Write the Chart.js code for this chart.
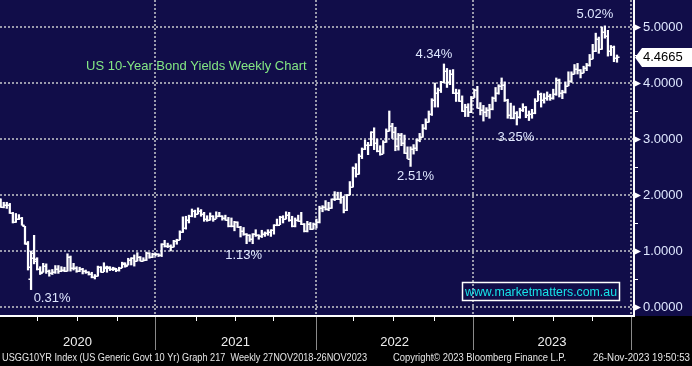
<!DOCTYPE html>
<html>
<head>
<meta charset="utf-8">
<script src="https://cdn.jsdelivr.net/npm/chart.js@4.4.0/dist/chart.umd.min.js"></script>
<style>
  html, body { margin: 0; padding: 0; background: #000; }
</style>
</head>
<body>
<canvas id="yieldChart" width="692" height="366"></canvas>
<script>
// weekly OHLC of US 10yr yield, first bar = week of 3 Jan 2020, last = 24 Nov 2023
var openV = [
  1.92,1.79,1.82,1.83,1.68,1.52,1.58,1.59,1.44,1.12,0.50,0.88,0.82,
  0.67,0.62,0.73,0.64,0.60,0.62,0.68,0.64,0.66,0.65,0.90,0.70,0.70,
  0.64,0.67,0.64,0.62,0.59,0.53,0.56,0.71,0.63,0.70,0.70,0.67,0.68,
  0.66,0.70,0.77,0.75,0.84,0.87,0.82,0.89,0.83,0.84,0.97,0.90,0.95,0.94,
  0.92,1.12,1.09,1.09,1.07,1.17,1.20,1.34,1.41,1.56,1.63,1.72,1.66,
  1.72,1.66,1.58,1.56,1.63,1.58,1.63,1.62,1.59,1.55,1.45,1.44,1.52,
  1.43,1.36,1.30,1.28,1.22,1.30,1.28,1.26,1.31,1.32,1.34,1.37,1.46,
  1.47,1.61,1.57,1.64,1.55,1.45,1.56,1.54,1.48,1.35,1.48,1.40,1.49,
  1.51,1.77,1.78,1.75,1.77,1.92,1.93,1.92,1.97,1.73,2.00,2.14,2.48,
  2.38,2.70,2.83,2.90,2.89,3.12,2.93,2.78,2.74,2.94,3.15,3.23,3.13,
  2.88,3.08,2.93,2.75,2.65,2.83,2.84,2.98,3.03,3.19,3.31,3.45,3.69,
  3.83,3.88,4.02,4.21,4.01,4.16,3.82,3.83,3.68,3.50,3.58,3.48,3.74,
  3.87,3.56,3.51,3.48,3.51,3.53,3.74,3.82,3.95,3.96,3.70,3.43,3.38,
  3.47,3.39,3.52,3.57,3.42,3.44,3.46,3.68,3.80,3.69,3.74,3.76,3.74,
  3.81,4.06,3.82,3.84,3.95,4.03,4.16,4.25,4.24,4.18,4.26,4.33,4.43,
  4.57,4.78,4.61,4.91,4.84,4.57,4.65,4.44
];
var highV = [
  1.93,1.87,1.87,1.85,1.69,1.67,1.65,1.60,1.44,1.17,1.00,1.28,0.88,
  0.72,0.78,0.77,0.66,0.67,0.74,0.74,0.72,0.71,0.95,0.91,0.78,0.72,
  0.71,0.69,0.66,0.63,0.62,0.58,0.73,0.72,0.79,0.73,0.72,0.71,0.69,
  0.71,0.80,0.79,0.87,0.88,0.93,0.97,0.90,0.88,0.98,0.97,0.96,0.96,0.95,
  1.13,1.19,1.14,1.11,1.19,1.21,1.36,1.61,1.62,1.64,1.75,1.73,1.77,
  1.74,1.69,1.63,1.68,1.63,1.70,1.69,1.63,1.64,1.60,1.59,1.53,1.52,
  1.44,1.42,1.31,1.29,1.31,1.38,1.29,1.37,1.34,1.38,1.38,1.47,1.57,
  1.62,1.63,1.70,1.69,1.62,1.59,1.64,1.69,1.49,1.53,1.51,1.50,1.57,
  1.80,1.81,1.90,1.87,1.93,2.06,2.05,2.05,1.98,2.01,2.24,2.50,2.56,
  2.73,2.84,2.98,2.94,3.13,3.20,3.00,2.88,2.97,3.18,3.50,3.28,3.21,
  3.10,3.10,3.07,2.86,2.86,2.90,3.00,3.10,3.26,3.36,3.50,3.72,4.00,
  3.91,4.03,4.34,4.26,4.23,4.24,3.89,3.88,3.77,3.62,3.63,3.76,3.89,
  3.94,3.65,3.60,3.56,3.62,3.75,3.92,3.97,4.09,4.02,3.71,3.64,3.59,
  3.49,3.55,3.63,3.58,3.50,3.53,3.72,3.86,3.82,3.81,3.84,3.80,3.89,
  4.09,4.07,3.87,4.02,4.20,4.20,4.33,4.35,4.24,4.30,4.35,4.51,4.69,
  4.89,4.82,5.00,5.02,4.94,4.67,4.66,4.50
];
var lowV = [
  1.78,1.77,1.76,1.67,1.50,1.51,1.56,1.46,1.12,0.66,0.31,0.77,0.66,
  0.58,0.62,0.60,0.55,0.58,0.60,0.60,0.63,0.63,0.64,0.64,0.66,0.62,
  0.63,0.59,0.60,0.57,0.52,0.50,0.55,0.62,0.63,0.62,0.65,0.65,0.63,
  0.64,0.70,0.71,0.75,0.75,0.73,0.82,0.82,0.82,0.83,0.87,0.88,0.91,0.90,
  0.90,1.07,1.06,1.00,1.07,1.12,1.20,1.33,1.39,1.50,1.61,1.60,1.66,
  1.62,1.53,1.53,1.55,1.53,1.58,1.61,1.55,1.55,1.43,1.43,1.36,1.42,
  1.25,1.28,1.13,1.17,1.13,1.26,1.21,1.24,1.26,1.28,1.26,1.30,1.45,
  1.47,1.50,1.57,1.53,1.43,1.43,1.53,1.47,1.34,1.34,1.38,1.39,1.41,
  1.50,1.70,1.73,1.72,1.76,1.90,1.92,1.85,1.68,1.72,2.00,2.14,2.32,
  2.37,2.65,2.81,2.72,2.88,2.81,2.77,2.71,2.74,2.94,3.14,3.01,2.79,
  2.80,2.88,2.74,2.65,2.51,2.73,2.79,2.95,3.03,3.17,3.30,3.42,3.57,
  3.57,3.83,4.00,3.92,3.97,3.81,3.67,3.67,3.49,3.40,3.40,3.47,3.74,
  3.55,3.43,3.32,3.40,3.37,3.52,3.67,3.80,3.88,3.67,3.37,3.36,3.36,
  3.25,3.37,3.49,3.38,3.33,3.37,3.45,3.68,3.57,3.64,3.69,3.69,3.71,
  3.78,3.75,3.72,3.82,3.95,4.01,4.16,4.16,4.09,4.18,4.22,4.30,4.43,
  4.56,4.53,4.60,4.80,4.48,4.49,4.38,4.37
];
var closeV = [
  1.79,1.82,1.83,1.68,1.51,1.58,1.59,1.47,1.15,0.71,0.96,0.85,0.68,
  0.60,0.73,0.65,0.60,0.62,0.68,0.64,0.66,0.65,0.90,0.70,0.70,0.64,
  0.67,0.64,0.63,0.59,0.53,0.56,0.71,0.63,0.72,0.72,0.67,0.69,0.66,
  0.70,0.78,0.74,0.84,0.87,0.82,0.89,0.83,0.84,0.97,0.90,0.95,0.94,0.92,
  1.12,1.09,1.09,1.07,1.17,1.20,1.34,1.41,1.56,1.63,1.72,1.66,1.72,
  1.66,1.58,1.56,1.63,1.58,1.63,1.62,1.59,1.55,1.45,1.44,1.52,1.43,
  1.36,1.30,1.28,1.22,1.30,1.28,1.26,1.31,1.32,1.34,1.37,1.46,1.47,
  1.61,1.57,1.64,1.55,1.45,1.56,1.54,1.48,1.35,1.48,1.40,1.49,1.51,
  1.77,1.78,1.75,1.77,1.92,1.93,1.92,1.97,1.73,2.00,2.14,2.48,2.38,
  2.70,2.83,2.90,2.89,3.12,2.93,2.78,2.74,2.94,3.15,3.23,3.13,2.88,
  3.08,2.93,2.75,2.65,2.83,2.84,2.98,3.03,3.19,3.31,3.45,3.69,3.83,
  3.88,4.02,4.21,4.01,4.16,3.82,3.83,3.68,3.50,3.58,3.48,3.74,3.87,
  3.56,3.51,3.48,3.51,3.53,3.74,3.82,3.95,3.96,3.70,3.43,3.38,3.47,
  3.39,3.52,3.57,3.42,3.44,3.46,3.68,3.80,3.69,3.74,3.76,3.74,3.81,
  4.06,3.82,3.84,3.95,4.03,4.16,4.25,4.24,4.18,4.26,4.33,4.43,4.57,
  4.78,4.61,4.91,4.84,4.57,4.65,4.44,4.4665
];

// axis stuff (x is the week number, 0 = first bar)
var yTicks = [0, 1, 2, 3, 4, 5];
var yMinorTicks = [0.5, 1.5, 2.5, 3.5, 4.5];
var yearNames = ['2020', '2021', '2022', '2023'];
var yearEnds = [50.8, 103.9, 155.6, 207.6];
var quarterTicks = [12, 25.1, 38.3, 64.3, 77.2, 89.7, 116, 129.2, 142.7, 168.7, 181.9, 194.8];

// the high/low call-outs
var calloutWeek = [10, 81, 135, 146, 170, 199];
var calloutText = ['0.31%', '1.13%', '2.51%', '4.34%', '3.25%', '5.02%'];
var calloutSide = ['low', 'low', 'low', 'high', 'low', 'high'];

var footerLeft = 'USGG10YR Index (US Generic Govt 10 Yr) Graph 217  Weekly 27NOV2018-26NOV2023';
var footerMid = 'Copyright\u00A9 2023 Bloomberg Finance L.P.';
var footerRight = '26-Nov-2023 19:50:53';

if (openV.length !== closeV.length || highV.length !== closeV.length || lowV.length !== closeV.length) {
    console.error('length mismatch', openV.length, highV.length, lowV.length, closeV.length);
}

var NAVY = '#110d49';
var GRID = '#9a9aac';
var LABEL = '#dfe7ff';
var FONT = '"Liberation Sans", Arial, sans-serif';

// pixel nudges for the call-out labels (relative to the bar end)
var calloutNudge = [[21, 9], [-3, 12], [5, 10], [-10, -10], [-1, 12], [-10, -11]];

var bbgPlugin = {
    id: 'bbgPlugin',
    beforeDraw: function (chart) {
        var ctx = chart.ctx;
        ctx.save();
        ctx.fillStyle = '#000';
        ctx.fillRect(0, 0, chart.width, chart.height);
        ctx.fillStyle = NAVY;
        ctx.fillRect(0, 0, chart.width, chart.chartArea.bottom);
        ctx.restore();
    },
    afterDatasetsDraw: function (chart) {
        // open tick on the left, close tick on the right
        var ctx = chart.ctx, y = chart.scales.y, a = chart.chartArea;
        var bars = chart.getDatasetMeta(0).data;
        ctx.save();
        ctx.beginPath();
        ctx.rect(a.left, a.top, a.right - a.left, a.bottom - a.top);
        ctx.clip();
        ctx.strokeStyle = '#ffffff';
        ctx.lineWidth = 1.6;
        ctx.beginPath();
        bars.forEach(function (bar, i) {
            var yo = Math.round(y.getPixelForValue(openV[i])) + 0.2;
            var yc = Math.round(y.getPixelForValue(closeV[i])) + 0.2;
            ctx.moveTo(bar.x - 2.6, yo);
            ctx.lineTo(bar.x, yo);
            ctx.moveTo(bar.x, yc);
            ctx.lineTo(bar.x + 2.6, yc);
        });
        ctx.stroke();
        ctx.restore();
    },
    afterDraw: function (chart) {
        var ctx = chart.ctx, x = chart.scales.x, y = chart.scales.y, a = chart.chartArea;
        ctx.save();

        // axis lines
        ctx.strokeStyle = '#ffffff';
        ctx.lineWidth = 2;
        ctx.beginPath();
        ctx.moveTo(a.right + 1, 0);
        ctx.lineTo(a.right + 1, a.bottom + 1);
        ctx.moveTo(0, a.bottom);
        ctx.lineTo(a.right + 1, a.bottom);
        ctx.stroke();

        // y tick arrows and minor ticks
        ctx.fillStyle = '#ffffff';
        yTicks.forEach(function (v) {
            var py = Math.round(y.getPixelForValue(v)) + 0.5;
            ctx.beginPath();
            ctx.moveTo(a.right + 1, py - 3.5);
            ctx.lineTo(a.right + 8, py);
            ctx.lineTo(a.right + 1, py + 3.5);
            ctx.closePath();
            ctx.fill();
        });
        ctx.lineWidth = 1;
        ctx.beginPath();
        yMinorTicks.forEach(function (v) {
            var py = Math.round(y.getPixelForValue(v)) + 0.5;
            ctx.moveTo(a.right, py);
            ctx.lineTo(a.right + 5, py);
        });
        // quarter ticks under the x axis
        quarterTicks.forEach(function (v) {
            var px = Math.round(x.getPixelForValue(v)) + 0.5;
            ctx.moveTo(px, a.bottom);
            ctx.lineTo(px, a.bottom + 5);
        });
        ctx.stroke();

        // year separators below the axis
        ctx.strokeStyle = '#8a8a8a';
        ctx.beginPath();
        yearEnds.forEach(function (v) {
            var px = Math.round(x.getPixelForValue(v)) + 0.5;
            ctx.moveTo(px, a.bottom + 1);
            ctx.lineTo(px, a.bottom + 34);
        });
        ctx.stroke();

        // year labels
        ctx.font = '13px ' + FONT;
        ctx.fillStyle = '#eeeeee';
        ctx.textAlign = 'center';
        ctx.textBaseline = 'middle';
        var prev = a.left;
        yearNames.forEach(function (name, i) {
            var px = x.getPixelForValue(yearEnds[i]);
            ctx.fillText(name, (prev + px) / 2, a.bottom + 26);
            prev = px;
        });

        // call-outs
        ctx.fillStyle = LABEL;
        calloutWeek.forEach(function (w, i) {
            var v = calloutSide[i] === 'high' ? highV[w] : lowV[w];
            var px = x.getPixelForValue(w) + calloutNudge[i][0];
            var py = y.getPixelForValue(v) + calloutNudge[i][1];
            ctx.fillText(calloutText[i], px, py);
        });

        // title
        ctx.textAlign = 'left';
        ctx.fillStyle = '#84e884';
        ctx.fillText('US 10-Year Bond Yields Weekly Chart', 86, 66);

        // watermark
        ctx.strokeStyle = '#ffffff';
        ctx.lineWidth = 1.5;
        ctx.strokeRect(462.5, 282.5, 157, 18);
        ctx.fillStyle = '#17e3e8';
        ctx.textAlign = 'center';
        ctx.fillText('www.marketmatters.com.au', 541, 292, 152);

        // last price tag
        var last = closeV[closeV.length - 1];
        var ly = Math.round(y.getPixelForValue(last)) + 0.5;
        ctx.fillStyle = '#ffffff';
        ctx.beginPath();
        ctx.moveTo(a.right + 2, ly);
        ctx.lineTo(a.right + 9, ly - 9.5);
        ctx.lineTo(chart.width, ly - 9.5);
        ctx.lineTo(chart.width, ly + 9.5);
        ctx.lineTo(a.right + 9, ly + 9.5);
        ctx.closePath();
        ctx.fill();
        ctx.fillStyle = '#000000';
        ctx.textAlign = 'left';
        ctx.fillText(last.toFixed(4), a.right + 10, ly);

        // footer
        ctx.font = '11px ' + FONT;
        ctx.fillStyle = '#e6e6e6';
        ctx.fillText(footerLeft, 2, 358, 365);
        ctx.fillText(footerMid, 393, 358, 173);
        ctx.textAlign = 'right';
        ctx.fillText(footerRight, 690, 358, 97);

        ctx.restore();
    }
};

var ctx = document.getElementById('yieldChart').getContext('2d');
var yieldChart = new Chart(ctx, {
    type: 'bar',
    plugins: [bbgPlugin],
    data: {
        datasets: [{
            data: closeV.map(function (c, i) { return { x: i, y: [lowV[i], highV[i]] }; }),
            backgroundColor: '#ffffff',
            borderWidth: 0,
            barThickness: 1.6
        }]
    },
    options: {
        responsive: false,
        maintainAspectRatio: false,
        devicePixelRatio: 1,
        animation: false,
        events: [],
        layout: { padding: 0 },
        plugins: {
            legend: { display: false },
            tooltip: { enabled: false }
        },
        scales: {
            x: {
                type: 'linear',
                offset: false,
                min: -0.23,
                max: 208.27,
                afterBuildTicks: function (axis) {
                    axis.ticks = yearEnds.map(function (v) { return { value: v }; });
                },
                afterFit: function (axis) {
                    axis.height = 50;
                    axis.paddingLeft = 0;
                    axis.paddingRight = 0;
                },
                ticks: { display: false },
                grid: { offset: false, color: GRID, lineWidth: 2, drawTicks: false },
                border: { display: false, dash: [2, 2] }
            },
            y: {
                position: 'right',
                min: -0.161,
                max: 5.482,
                afterBuildTicks: function (axis) {
                    axis.ticks = yTicks.map(function (v) { return { value: v }; });
                },
                afterFit: function (axis) {
                    axis.width = 59;
                    axis.paddingTop = 0;
                    axis.paddingBottom = 0;
                },
                ticks: {
                    padding: 10,
                    color: LABEL,
                    font: { family: FONT, size: 13 },
                    callback: function (v) { return v.toFixed(4); }
                },
                grid: { color: GRID, lineWidth: 2, drawTicks: false },
                border: { display: false, dash: [2, 2] }
            }
        }
    }
});
</script>
</body>
</html>
